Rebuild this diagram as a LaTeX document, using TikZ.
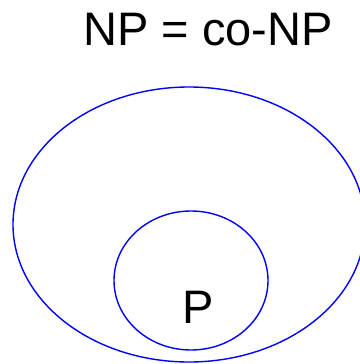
\documentclass[tikz,border=0pt]{standalone}
\usepackage{fontspec}
\setmainfont{Liberation Sans}
\usetikzlibrary{shapes.geometric}
\begin{document}
\begin{tikzpicture}[x=1pt,y=-1pt,
  setline/.style={draw=blue,line width=1.4pt},
  lbl/.style={anchor=base,inner sep=0pt,font=\fontsize{47}{56}\selectfont}]
\useasboundingbox (0,0) rectangle (359,364);
\node[setline,ellipse,minimum width=352pt,minimum height=275pt,inner sep=0pt] (np) at (189,224.5) {};
\node[setline,ellipse,minimum width=154pt,minimum height=139pt,inner sep=0pt] (p) at (191,280.5) {};
\node[lbl] (title) at (208,45) {NP = co-NP};
\node[lbl] (plabel) at (198.5,323) {P};
\end{tikzpicture}
\end{document}
